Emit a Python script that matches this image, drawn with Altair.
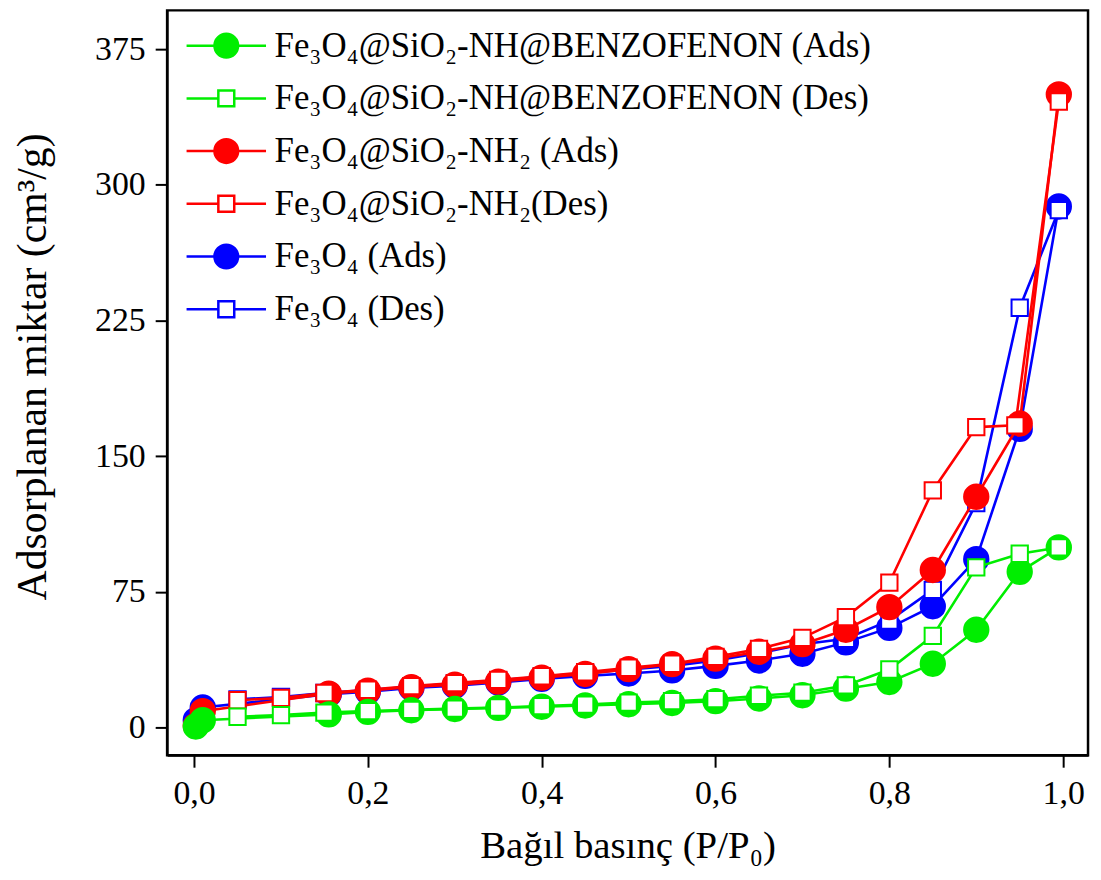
import altair as alt
import pandas as pd

# ---------------- data ----------------
SERIES = [
    "Fe₃O₄@SiO₂-NH@BENZOFENON (Ads)",
    "Fe₃O₄@SiO₂-NH@BENZOFENON (Des)",
    "Fe₃O₄@SiO₂-NH₂ (Ads)",
    "Fe₃O₄@SiO₂-NH₂(Des)",
    "Fe₃O₄ (Ads)",
    "Fe₃O₄ (Des)",
]
COLORS = ["#00ee00", "#00ee00", "#ff0000", "#ff0000", "#0000ff", "#0000ff"]
FILLS = ["#00ee00", "#ffffff", "#ff0000", "#ffffff", "#0000ff", "#ffffff"]
KIND = ["Ads", "Des", "Ads", "Des", "Ads", "Des"]

P_ADS = [0.002, 0.01, 0.155, 0.2, 0.25, 0.3, 0.35, 0.4, 0.45, 0.5, 0.55, 0.6,
         0.65, 0.7, 0.75, 0.8, 0.85, 0.9, 0.95, 0.995]
P_DES = [0.995, 0.95, 0.9, 0.85, 0.8, 0.75, 0.7, 0.65, 0.6, 0.55, 0.5, 0.45,
         0.4, 0.35, 0.3, 0.25, 0.2, 0.15, 0.1, 0.05]
P_DES_RED = [0.995, 0.945, 0.9, 0.85, 0.8, 0.75, 0.7, 0.65, 0.6, 0.55, 0.5, 0.45,
             0.4, 0.35, 0.3, 0.25, 0.2, 0.15, 0.1, 0.05]

BENZ_ADS = [0.5, 4, 7.2, 8.6, 9.5, 10.2, 10.8, 11.4, 12.1, 12.8, 13.5, 14.5,
            16, 17.8, 21.4, 25.1, 35.2, 54, 86, 99.5]
BENZ_DES = [99.5, 96, 88.5, 50.6, 32, 23.2, 19.2, 17.5, 15.6, 14.5, 13.7, 12.6,
            11.8, 11, 10.4, 9.7, 9, 8.2, 6.8, 5.9]
NH2_ADS = [1, 9, 18.7, 20.3, 22.3, 23.6, 25.3, 27.5, 29.5, 32.2, 35, 38,
           41.8, 46, 54, 66.5, 87, 127.5, 168, 350]
NH2_DES = [346, 167, 166, 131, 80, 61, 49.5, 43.4, 39, 35.2, 33, 30.5,
           28.3, 26.3, 24.5, 22.8, 20.8, 19, 16.3, 15]
FE_ADS = [4, 11, 18.3, 19.8, 21.8, 23, 24.8, 26.8, 28.5, 29.8, 31.5, 34,
          37, 40.7, 47, 55, 67, 93, 165, 288]
FE_DES = [286, 232, 124, 76, 59, 49, 46, 41, 37, 34, 32, 30,
          28, 26, 24.2, 22.5, 20.6, 19, 16.8, 15.5]

X_TICKS = [0.0, 0.2, 0.4, 0.6, 0.8, 1.0]
Y_TICKS = [0, 75, 150, 225, 300, 375]

XS = [P_ADS, P_DES, P_ADS, P_DES_RED, P_ADS, P_DES]
YS = [BENZ_ADS, BENZ_DES, NH2_ADS, NH2_DES, FE_ADS, FE_DES]

rows = []
for s, xs, ys in zip(SERIES, XS, YS):
    for i, (x, y) in enumerate(zip(xs, ys)):
        rows.append({"series": s, "p": x, "v": y, "idx": i})
df = pd.DataFrame(rows)

FONT = "Times New Roman, Liberation Serif, DejaVu Serif, serif"

x_enc = alt.X(
    "p:Q",
    scale=alt.Scale(domain=[-0.031, 1.0286], nice=False, zero=False),
    axis=alt.Axis(
        values=X_TICKS,
        labelExpr="replace(format(datum.value, '.1f'), '.', ',')",
        title="Bağıl basınç (P/P₀)",
        titleFont=FONT, titleFontSize=39, titleFontWeight="normal", titleColor="black",
        titleY=103, titleBaseline="alphabetic",
        labelFont=FONT, labelFontSize=34, labelColor="black", labelPadding=10,
        tickSize=12, tickWidth=2, tickColor="black",
        domainColor="black", domainWidth=2, grid=False, labelFlush=False,
    ),
)
y_enc = alt.Y(
    "v:Q",
    scale=alt.Scale(domain=[-15.4, 396.4], nice=False, zero=False),
    axis=alt.Axis(
        values=Y_TICKS,
        title="Adsorplanan miktar (cm³/g)",
        titleFont=FONT, titleFontSize=42, titleFontWeight="normal", titleColor="black",
        titleX=-135, titleY=358, titleAngle=270, titleAlign="center", titleBaseline="middle",
        labelFont=FONT, labelFontSize=34, labelColor="black", labelPadding=10,
        tickSize=12, tickWidth=2, tickColor="black",
        domainColor="black", domainWidth=2, grid=False, labelFlush=False,
    ),
)

base = alt.Chart(df)
layers = []
# z-order: blue at bottom, then red, then green on top
for k in [4, 5, 2, 3, 0, 1]:
    s = SERIES[k]
    sub = base.transform_filter(alt.datum.series == s)
    layers.append(
        sub.mark_line(color=COLORS[k], strokeWidth=2.6).encode(
            x=x_enc, y=y_enc, order=alt.Order("idx:Q")
        )
    )
    if KIND[k] == "Ads":
        pts = sub.mark_point(shape="circle", filled=True, fill=COLORS[k],
                             stroke=COLORS[k], strokeWidth=2, size=600, opacity=1)
    else:
        pts = sub.mark_point(shape="square", filled=True, fill="#ffffff",
                             stroke=COLORS[k], strokeWidth=2, size=270, opacity=1)
    layers.append(pts.encode(x=x_enc, y=y_enc))

# legend symbols: line stub + marker (unit = sqrt(symbolSize)/2 = 17 px)
CIRCLE_PATH = ("M-2.35,0L-0.7,0M0.7,0L2.35,0M-0.7,0A0.7,0.7,0,1,1,0.7,0"
               "A0.7,0.7,0,1,1,-0.7,0Z")
SQUARE_PATH = ("M-2.35,0L-0.47,0M0.47,0L2.35,0M-0.47,-0.47L0.47,-0.47"
               "L0.47,0.47L-0.47,0.47Z")
SHAPES = [CIRCLE_PATH if k == "Ads" else SQUARE_PATH for k in KIND]

leg = alt.Legend(
    title=None, orient="none", legendX=41, legendY=17, padding=0,
    symbolSize=1156, symbolStrokeWidth=2.5, symbolOpacity=1,
    labelFont=FONT, labelFontSize=35, labelColor="black", labelLimit=2000,
    labelOffset=30, rowPadding=16,
)
legend_layer = base.transform_filter("datum.p < -5").mark_point(opacity=1).encode(
    x=x_enc, y=y_enc,
    shape=alt.Shape("series:N", scale=alt.Scale(domain=SERIES, range=SHAPES), legend=leg),
    stroke=alt.Stroke("series:N", scale=alt.Scale(domain=SERIES, range=COLORS), legend=leg),
    fill=alt.Fill("series:N", scale=alt.Scale(domain=SERIES, range=FILLS), legend=leg),
)
layers.append(legend_layer)

chart = alt.layer(*layers).properties(
    width=926, height=749,
    autosize=alt.AutoSizeParams(type="none"),
    padding={"left": 160, "top": 0, "right": 5, "bottom": 115},
    background="white",
).configure_view(stroke="black", strokeWidth=2.5)

chart.save("out.html", embed_options={"renderer": "svg", "actions": False})
